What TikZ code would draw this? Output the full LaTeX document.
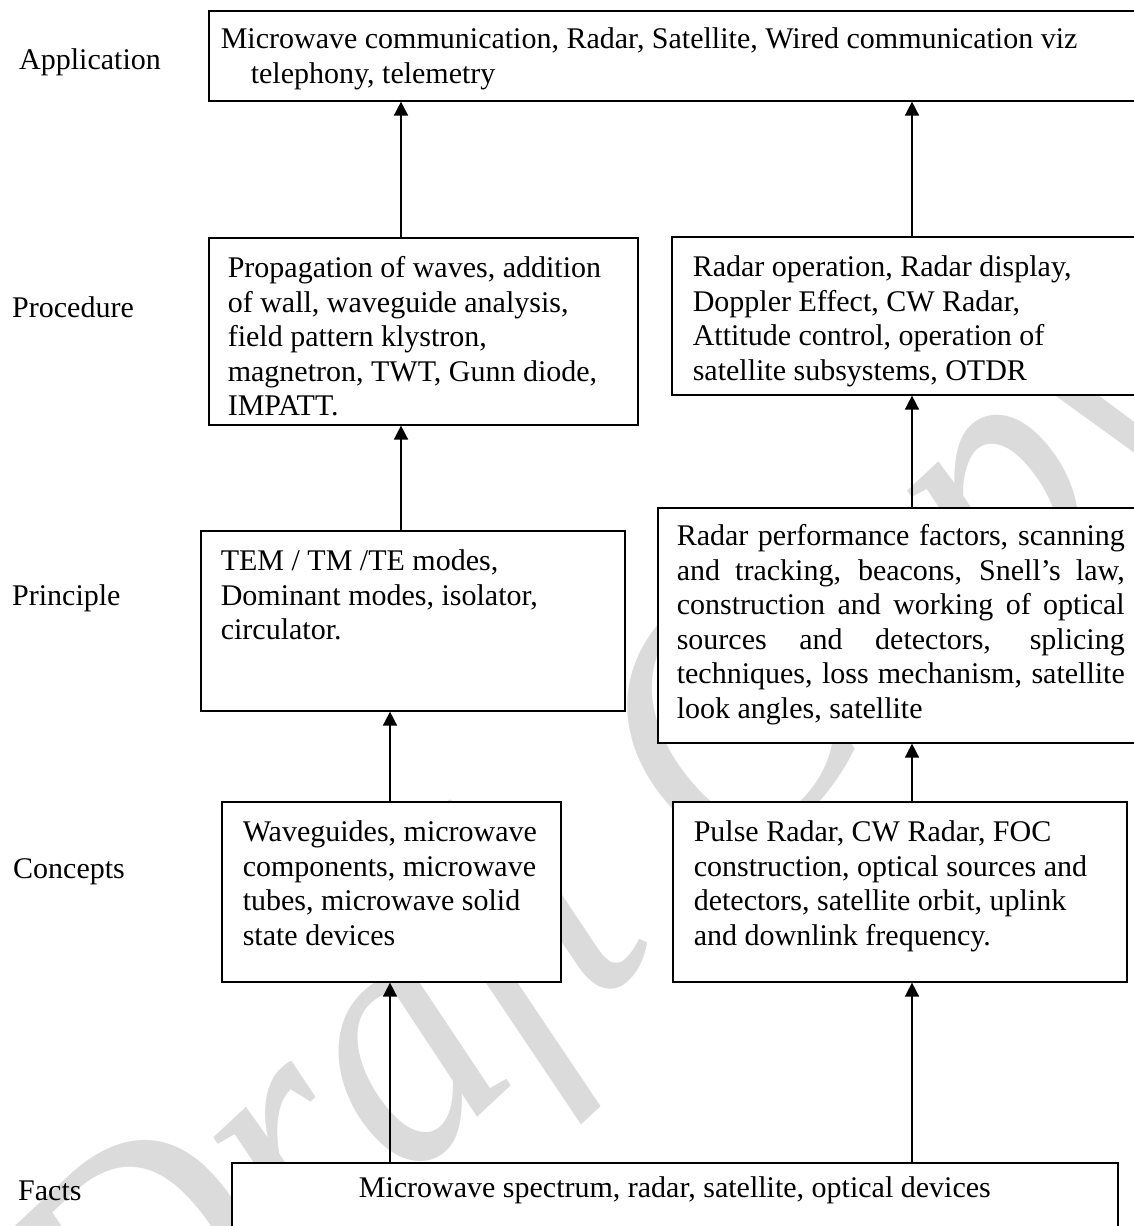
\documentclass[tikz,border=0pt]{standalone}
\usepackage{fontspec}
\setmainfont{Liberation Serif}
\usetikzlibrary{arrows.meta}

\tikzset{
  lvl/.style={anchor=base west, inner sep=0pt},
  blk/.style={draw, fill=white, line width=1.6pt, anchor=north west, inner xsep=20pt, inner ysep=16pt},
  up/.style={-{Triangle[width=14pt,length=14pt]}, line width=1.6pt},
  wmark/.style={rotate=43, xscale=0.92, text=gray!28, font=\fontsize{360}{360}\selectfont\itshape},
}
% box text: width, height, lines
\newcommand{\blktext}[3]{\parbox[c][#2][t]{#1}{\raggedright\strut #3}}

\begin{document}
\begin{tikzpicture}[x=1pt, y=-1pt, font=\fontsize{30}{34.5}\selectfont]
\useasboundingbox (0,0) rectangle (1134,1226);
\node[wmark] (wm) at (625,860) {Draft Copy};

% levels
\node[lvl] (lapp) at (19,69) {Application};
\node[lvl] (lproc) at (12,317) {Procedure};
\node[lvl] (lprin) at (12,605) {Principle};
\node[lvl] (lcon) at (13,878) {Concepts};
\node[lvl] (lfact) at (18,1200) {Facts};

% boxes
\node[blk, inner xsep=12pt, inner ysep=14pt] (app) at (208,10) {\blktext{908pt}{62pt}{Microwave communication, Radar, Satellite, Wired communication viz\\ \hspace*{30pt}telephony, telemetry}};
\node[blk, inner xsep=19pt] (procL) at (208,237) {\blktext{391pt}{155pt}{Propagation of waves, addition\\ of wall, waveguide analysis,\\ field pattern klystron,\\ magnetron, TWT, Gunn diode,\\ IMPATT.}};
\node[blk, inner xsep=21pt] (procR) at (671,236) {\blktext{427pt}{126pt}{Radar operation, Radar display,\\ Doppler Effect, CW Radar,\\ Attitude control, operation of\\ satellite subsystems, OTDR}};
\node[blk] (prinL) at (200,530) {\blktext{384pt}{148pt}{TEM / TM /TE modes,\\ Dominant modes, isolator,\\ circulator.}};
\node[blk, inner xsep=19pt, inner ysep=14pt] (prinR) at (657,507) {\parbox[c][207pt][t]{448pt}{\hyphenpenalty=10000\strut Radar performance factors, scanning\linebreak and tracking, beacons, Snell’s law,\linebreak construction and working of optical\linebreak sources and detectors, splicing\linebreak techniques, loss mechanism, satellite\linebreak look angles, satellite}};
\node[blk, inner xsep=21pt] (conL) at (221,801) {\blktext{297pt}{148pt}{Waveguides, microwave\\ components, microwave\\ tubes, microwave solid\\ state devices}};
\node[blk, inner xsep=21pt] (conR) at (672,801) {\blktext{412pt}{148pt}{Pulse Radar, CW Radar, FOC\\ construction, optical sources and\\ detectors, satellite orbit, uplink\\ and downlink frequency.}};
\node[blk, inner ysep=11pt] (fact) at (231,1162) {\parbox[c][58pt][t]{846pt}{\centering\strut Microwave spectrum, radar, satellite, optical devices}};

% arrows
\coordinate (xa) at (401,0);
\coordinate (xb) at (390,0);
\coordinate (xc) at (912,0);
\draw[up] (procL.north -| xa) -- (app.south -| xa);
\draw[up] (procR.north -| xc) -- (app.south -| xc);
\draw[up] (prinL.north -| xa) -- (procL.south -| xa);
\draw[up] (prinR.north -| xc) -- (procR.south -| xc);
\draw[up] (conL.north -| xb) -- (prinL.south -| xb);
\draw[up] (conR.north -| xc) -- (prinR.south -| xc);
\draw[up] (fact.north -| xb) -- (conL.south -| xb);
\draw[up] (fact.north -| xc) -- (conR.south -| xc);
\end{tikzpicture}
\end{document}
